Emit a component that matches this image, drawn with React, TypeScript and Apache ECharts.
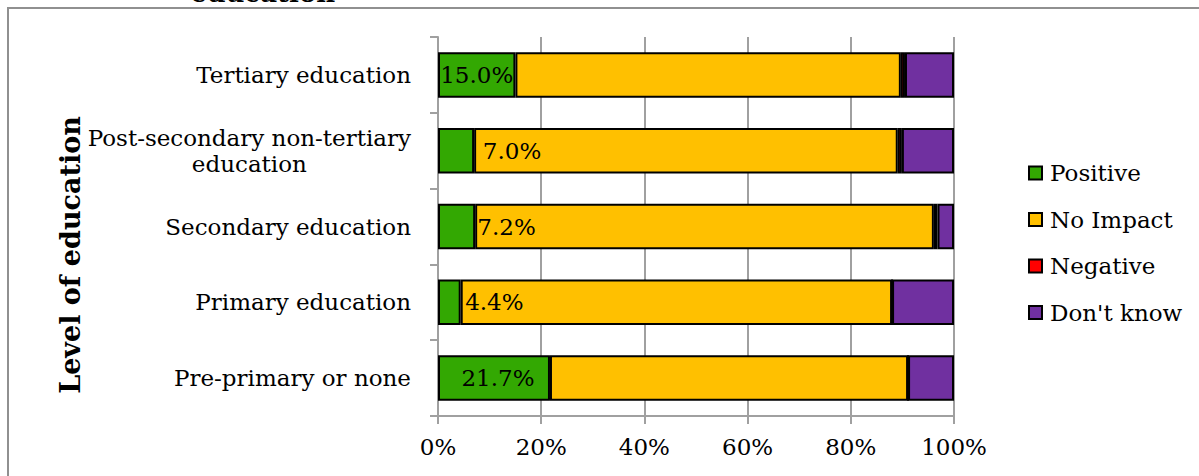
import React, { useEffect, useRef } from 'react';
import * as echarts from 'echarts';

const categories = [
  'Tertiary education',
  'Post-secondary non-tertiary education',
  'Secondary education',
  'Primary education',
  'Pre-primary or none',
];
const positive = [15.0, 7.0, 7.2, 4.4, 21.7];
const noImpact = [74.7, 82.1, 88.9, 83.6, 69.4];
const negative = [0.8, 0.8, 0.7, 0.0, 0.0];
const dontKnow = [9.5, 10.1, 3.2, 12.0, 8.9];
const seriesNames = ['Positive', 'No Impact', 'Negative', "Don't know"];
const xTickValues = [0, 20, 40, 60, 80, 100];

const titleText = 'education';
const yTitle = 'Level of education';

const FONT = 'DejaVu Serif';
const FS = 23;
const colors = ['#33A802', '#FFC000', '#FF0000', '#7030A0'];
const labelShift = [0, 56, 50, 45, 4];

export default function App() {
  const ref = useRef<HTMLDivElement>(null);
  useEffect(() => {
    const chart = echarts.init(ref.current!, null, { renderer: 'svg' });
    const values = [positive, noImpact, negative, dontKnow];
    const gridColor = '#a0a0a0';
    const option: any = {
      animation: false,
      backgroundColor: '#ffffff',
      textStyle: { fontFamily: FONT, color: '#000' },
      grid: { left: 438, right: 245, top: 37, bottom: 60, containLabel: false },
      legend: {
        orient: 'vertical',
        left: 1023,
        top: 155,
        itemWidth: 13,
        itemHeight: 13,
        itemGap: 20.5,
        icon: 'rect',
        data: seriesNames,
        textStyle: { fontFamily: FONT, fontSize: FS, color: '#000', lineHeight: 26, padding: [0, 0, 0, 3] },
      },
      xAxis: {
        type: 'value',
        min: xTickValues[0],
        max: xTickValues[xTickValues.length - 1],
        interval: xTickValues[1] - xTickValues[0],
        axisLine: { show: true, lineStyle: { color: gridColor, width: 2 } },
        axisTick: { show: true, length: 8, lineStyle: { color: gridColor, width: 2 } },
        splitLine: { show: true, lineStyle: { color: gridColor, width: 2 } },
        axisLabel: {
          formatter: (v: number) => `${v}%`,
          fontFamily: FONT,
          fontSize: FS,
          color: '#000',
          margin: 19,
        },
      },
      yAxis: {
        type: 'category',
        inverse: true,
        data: categories,
        axisLine: { show: true, lineStyle: { color: gridColor, width: 2 } },
        axisTick: { show: true, length: 8, lineStyle: { color: gridColor, width: 2 } },
        axisLabel: {
          margin: 27,
          fontFamily: FONT,
          fontSize: FS,
          color: '#000',
          lineHeight: 26,
          formatter: (v: string) => {
            if (v.length > 25) {
              const idx = v.lastIndexOf(' ');
              return `{a|${v.slice(0, idx)}}\n{b|${v.slice(idx + 1)}}`;
            }
            return `{a|${v}}`;
          },
          rich: {
            a: { fontFamily: FONT, fontSize: FS, color: '#000', lineHeight: 26 },
            b: { fontFamily: FONT, fontSize: FS, color: '#000', lineHeight: 26, align: 'center' },
          },
        },
      },
      series: seriesNames.map((name, i) => ({
        name,
        type: 'bar',
        stack: 'total',
        barCategoryGap: '40%',
        itemStyle: { color: colors[i], borderColor: '#000', borderWidth: 2 },
        emphasis: { disabled: true },
        label:
          i === 0
            ? {
                show: true,
                position: 'inside',
                formatter: (p: any) => `${Number(p.value).toFixed(1)}%`,
                color: '#000',
                fontFamily: FONT,
                fontSize: FS,
              }
            : { show: false },
        data:
          i === 0
            ? values[i].map((v, j) => ({ value: v, label: { offset: [labelShift[j], 0] } }))
            : values[i],
      })),
      graphic: [
        {
          type: 'rect',
          shape: { x: 8, y: 8, width: 1400, height: 800 },
          style: { fill: 'none', stroke: '#909090', lineWidth: 2 },
          silent: true,
        },
        {
          type: 'text',
          x: 263,
          y: 6,
          style: {
            text: titleText,
            fontFamily: FONT,
            fontSize: 26,
            fontWeight: 'bold',
            fill: '#000',
            align: 'center',
            verticalAlign: 'bottom',
          },
        },
        {
          type: 'text',
          x: 70,
          y: 255,
          rotation: Math.PI / 2,
          style: {
            text: yTitle,
            fontFamily: FONT,
            fontSize: 27,
            fontWeight: 'bold',
            fill: '#000',
            align: 'center',
            verticalAlign: 'middle',
          },
        },
      ],
    };
    chart.setOption(option);
    return () => chart.dispose();
  }, []);
  return (
    <div
      ref={ref}
      style={{ position: 'fixed', left: 0, top: 0, width: 1199, height: 476, background: '#fff' }}
    />
  );
}
